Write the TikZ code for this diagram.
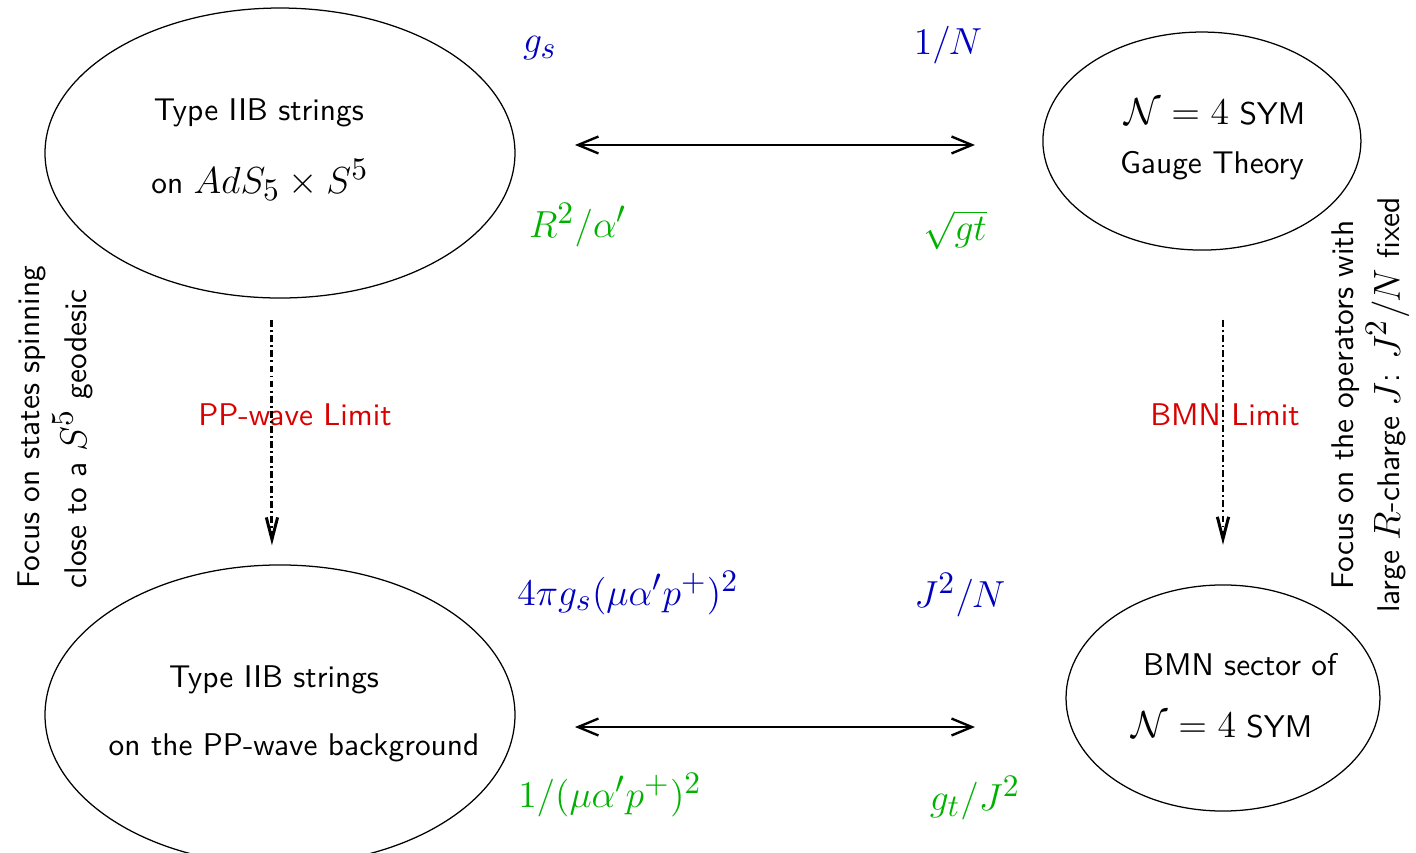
\documentclass[tikz,border=0pt]{standalone}
\usepackage{amsmath,amssymb}
\usepackage{xcolor}
\usepackage{tikz}
\usetikzlibrary{shapes,arrows,arrows.meta,positioning}
\DeclareMathSizes{12}{12}{10}{8}

\begin{document}
\begin{tikzpicture}[font=\sffamily]
  \tikzstyle{theory} = [ellipse, draw, inner sep=0pt, outer sep=0pt]
  \tikzstyle{line} = [draw, line width=0.75pt, {Straight Barb[length=6.5pt,width=5.4pt]}-{Straight Barb[length=6.5pt,width=5.4pt]}]
  \tikzstyle{limitline} = [draw, line width=0.95pt, dash pattern=on 2.2pt off 1pt on 0.6pt off 1pt, -{Straight Barb[length=7pt,width=3.6pt]}]
  \tikzstyle{coupling} = [text=blue!75!black, font=\large]
  \tikzstyle{tensionlabel} = [text=green!70!black, font=\large]
  \tikzstyle{limitlabel} = [text=red!85!black]
  \useasboundingbox (0,0) rectangle (15.86,9.554);

  % String Side
  \node[theory, minimum width=5.264cm, minimum height=3.248cm] (adsbox) at (3.136,7.84) {};
  \node (ads1) at (2.90,8.288) {Type IIB strings};
  \node (ads2) at (2.912,7.538) {on {\large $AdS_5\times S^5$}};

  \node[theory, minimum width=5.264cm, minimum height=3.36cm] (ppbox) at (3.136,1.546) {};
  \node (pp1) at (3.069,1.938) {Type IIB strings};
  \node (pp2) at (3.293,1.176) {on the PP-wave background};

  % Gauge Side
  \node[theory, minimum width=3.562cm, minimum height=2.442cm] (symbox) at (13.462,7.974) {};
  \node (sym1) at (13.608,8.30) {{\large $\mathcal{N}=4$} SYM};
  \node (sym2) at (13.574,7.694) {Gauge Theory};

  \node[theory, minimum width=3.516cm, minimum height=2.532cm] (bmnbox) at (13.698,1.736) {};
  \node (bmn1) at (13.888,2.106) {BMN sector of};
  \node (bmn2) at (13.686,1.434) {{\large $\mathcal{N}=4$} SYM};

  % Couplings
  \node[coupling] (gs) at (6.048,9.016) {$g_s$};
  \node[coupling] (invN) at (10.618,9.05) {$1/N$};
  \node[tensionlabel] (ralpha) at (6.474,7.034) {$R^2/\alpha'$};
  \node[tensionlabel] (sqrtg) at (10.696,6.98) {$\sqrt{gt}$};
  \node[coupling] (gspp) at (7.034,2.912) {$4\pi g_s(\mu\alpha' p^+)^2$};
  \node[coupling] (JN) at (10.752,2.89) {$J^2/N$};
  \node[tensionlabel] (mupp) at (6.832,0.65) {$1/(\mu\alpha' p^+)^2$};
  \node[tensionlabel] (gJ) at (10.92,0.616) {$g_t/J^2$};

  % Limits
  \node[limitlabel] (pplimit) at (3.304,4.906) {PP-wave Limit};
  \node[limitlabel] (bmnlimit) at (13.72,4.906) {BMN Limit};
  \node[rotate=90, align=left] (ppfocus) at (0.62,4.771) {Focus on states spinning\\[1pt] close to a {\large $S^5$} geodesic};
  \node[rotate=90, align=center] (bmnfocus) at (15.35,5.018) {Focus on the operators with\\[1pt] large {\large $R$}-charge {\large $J$}: {\large $J^2/N$} fixed};

  % Connections
  \coordinate (stringtop) at (6.44,7.93);
  \coordinate (gaugetop) at (10.92,7.93);
  \coordinate (stringbot) at (6.44,1.411);
  \coordinate (gaugebot) at (10.92,1.411);
  \draw[line] (stringtop) -- (gaugetop);
  \draw[line] (stringbot) -- (gaugebot);
  \draw[limitline, shorten <=0.25cm, shorten >=0.22cm] ([xshift=-0.09cm]adsbox.south) -- ([xshift=-0.09cm]ppbox.north);
  \draw[limitline, shorten <=0.78cm, shorten >=0.45cm] (symbox.south -| bmnbox.north) -- (bmnbox.north);
\end{tikzpicture}
\end{document}
